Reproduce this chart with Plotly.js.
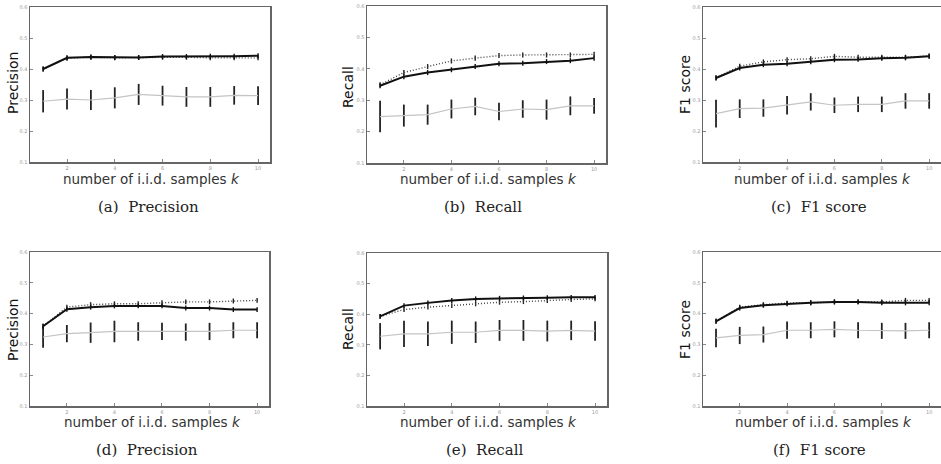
<!DOCTYPE html>
<html>
<head>
<meta charset="utf-8">
<script src="https://cdn.plot.ly/plotly-3.0.1.min.js"></script>
<style>
html,body{margin:0;padding:0;background:#fff;}
#chart{width:941px;height:464px;}
</style>
</head>
<body>
<div id="chart"></div>
<script>
// ---- data ----
const k = [1, 2, 3, 4, 5, 6, 7, 8, 9, 10];
const xTicks = [2, 4, 6, 8, 10];
const yTicks = [0.1, 0.2, 0.3, 0.4, 0.5, 0.6];
const yTickLabels = ["0.1", "0.2", "0.3", "0.4", "0.5", "0.6"];

const captions = ["(a)  Precision", "(b)  Recall", "(c)  F1 score", "(d)  Precision", "(e)  Recall", "(f)  F1 score"];
const yTitles = ["Precision", "Recall", "F1 score", "Precision", "Recall", "F1 score"];
const xTitle = "number of i.i.d. samples <i>k</i>";

// (a) Precision
const aSolid  = [0.400, 0.436, 0.439, 0.437, 0.437, 0.440, 0.440, 0.441, 0.441, 0.443];
const aDotted = [0.400, 0.435, 0.438, 0.436, 0.437, 0.438, 0.438, 0.436, 0.436, 0.436];
const aGrey   = [0.296, 0.303, 0.300, 0.307, 0.318, 0.314, 0.310, 0.310, 0.315, 0.314];
const aGreyErr = [0.036, 0.034, 0.032, 0.034, 0.034, 0.032, 0.032, 0.032, 0.030, 0.030];

// (b) Recall
const bSolid  = [0.346, 0.375, 0.388, 0.397, 0.407, 0.416, 0.418, 0.423, 0.426, 0.434];
const bDotted = [0.349, 0.388, 0.407, 0.425, 0.434, 0.442, 0.444, 0.444, 0.444, 0.446];
const bGrey   = [0.248, 0.251, 0.254, 0.272, 0.280, 0.264, 0.272, 0.270, 0.282, 0.282];
const bGreyErr = [0.050, 0.035, 0.032, 0.030, 0.028, 0.028, 0.028, 0.032, 0.030, 0.025];

// (c) F1 score
const cSolid  = [0.371, 0.403, 0.414, 0.417, 0.423, 0.430, 0.431, 0.435, 0.436, 0.441];
const cDotted = [0.372, 0.409, 0.423, 0.430, 0.433, 0.441, 0.438, 0.438, 0.438, 0.442];
const cGrey   = [0.256, 0.272, 0.274, 0.283, 0.294, 0.283, 0.286, 0.286, 0.297, 0.297];
const cGreyErr = [0.045, 0.030, 0.028, 0.030, 0.028, 0.025, 0.025, 0.025, 0.025, 0.025];

// (d) Precision
const dSolid  = [0.359, 0.414, 0.421, 0.425, 0.425, 0.425, 0.418, 0.418, 0.413, 0.413];
const dDotted = [0.359, 0.421, 0.429, 0.432, 0.432, 0.435, 0.438, 0.438, 0.441, 0.443];
const dGrey   = [0.324, 0.335, 0.338, 0.342, 0.342, 0.342, 0.340, 0.342, 0.346, 0.346];
const dGreyErr = [0.035, 0.028, 0.033, 0.035, 0.030, 0.028, 0.028, 0.028, 0.026, 0.026];

// (e) Recall
const eSolid  = [0.393, 0.428, 0.437, 0.445, 0.450, 0.452, 0.453, 0.454, 0.455, 0.455];
const eDotted = [0.393, 0.415, 0.423, 0.428, 0.434, 0.439, 0.441, 0.445, 0.448, 0.450];
const eGrey   = [0.328, 0.336, 0.336, 0.341, 0.341, 0.347, 0.347, 0.345, 0.347, 0.345];
const eGreyErr = [0.043, 0.043, 0.040, 0.038, 0.035, 0.034, 0.034, 0.034, 0.032, 0.032];

// (f) F1 score
const fSolid  = [0.375, 0.418, 0.427, 0.432, 0.435, 0.438, 0.438, 0.435, 0.435, 0.435];
const fDotted = [0.375, 0.421, 0.429, 0.434, 0.435, 0.438, 0.438, 0.438, 0.443, 0.443];
const fGrey   = [0.321, 0.329, 0.332, 0.346, 0.346, 0.349, 0.346, 0.344, 0.344, 0.346];
const fGreyErr = [0.030, 0.028, 0.026, 0.028, 0.026, 0.026, 0.026, 0.026, 0.026, 0.026];

const mainErr = [0.008, 0.008, 0.008, 0.008, 0.008, 0.008, 0.008, 0.008, 0.008, 0.008];

const panels = [
  {solid: aSolid, dotted: aDotted, grey: aGrey, greyErr: aGreyErr},
  {solid: bSolid, dotted: bDotted, grey: bGrey, greyErr: bGreyErr},
  {solid: cSolid, dotted: cDotted, grey: cGrey, greyErr: cGreyErr},
  {solid: dSolid, dotted: dDotted, grey: dGrey, greyErr: dGreyErr},
  {solid: eSolid, dotted: eDotted, grey: eGrey, greyErr: eGreyErr},
  {solid: fSolid, dotted: fDotted, grey: fGrey, greyErr: fGreyErr}
];

// ---- layout geometry (px) ----
const W = 941, H = 464;
const boxes = [
  {x0: 30,  x1: 270, y0: 7,   y1: 162},
  {x0: 367, x1: 606, y0: 6,   y1: 163},
  {x0: 703, x1: 942, y0: 7,   y1: 162},
  {x0: 30,  x1: 269, y0: 252, y1: 406},
  {x0: 367, x1: 607, y0: 253, y1: 406},
  {x0: 703, x1: 942, y0: 252, y1: 406}
];
const yTitlePos = [[13, 83], [348, 87], [685, 85], [13, 330], [348, 329], [685, 330]];
const xTitlePos = [[151, 179], [488, 179], [822, 179], [152, 422], [488, 422], [823, 422]];
const capPos = [[148, 207], [483, 207], [819, 207], [147, 450], [484, 450], [819, 450]];

const fx = p => Math.min(1, p / W);
const fy = p => 1 - p / H;

const traces = [];
const layout = {
  width: W, height: H,
  margin: {l: 0, r: 0, t: 0, b: 0},
  paper_bgcolor: '#fff', plot_bgcolor: '#fff',
  showlegend: false,
  font: {family: 'DejaVu Sans', color: '#333'},
  annotations: []
};

panels.forEach((p, i) => {
  const n = i === 0 ? '' : String(i + 1);
  const xa = 'x' + n, ya = 'y' + n;
  const b = boxes[i];
  layout['xaxis' + n] = {
    domain: [fx(b.x0), fx(b.x1)], anchor: ya,
    range: [0.45, 10.5], tickvals: xTicks, ticktext: xTicks.map(String),
    showline: true, mirror: true, linecolor: '#666', linewidth: 1.5,
    ticks: 'inside', ticklen: 3, tickcolor: '#888',
    tickfont: {size: 5, color: '#999'}, showgrid: false, zeroline: false
  };
  layout['yaxis' + n] = {
    domain: [fy(b.y1), fy(b.y0)], anchor: xa,
    range: [0.1, 0.6], tickvals: yTicks, ticktext: yTickLabels,
    showline: true, mirror: true, linecolor: '#666', linewidth: 1.5,
    ticks: 'inside', ticklen: 3, tickcolor: '#888',
    tickfont: {size: 5, color: '#999'}, showgrid: false, zeroline: false
  };
  traces.push({
    x: k, y: p.grey, xaxis: xa, yaxis: ya, type: 'scatter', mode: 'lines',
    line: {color: '#c4c4c4', width: 1.2},
    error_y: {type: 'data', array: p.greyErr, visible: true, color: '#222', thickness: 1.8, width: 0}
  });
  traces.push({
    x: k, y: p.dotted, xaxis: xa, yaxis: ya, type: 'scatter', mode: 'lines',
    line: {color: '#444', width: 1.4, dash: '1px,2px'},
    error_y: {type: 'data', array: mainErr, visible: true, color: '#222', thickness: 1.4, width: 0}
  });
  traces.push({
    x: k, y: p.solid, xaxis: xa, yaxis: ya, type: 'scatter', mode: 'lines',
    line: {color: '#111', width: 2},
    error_y: {type: 'data', array: mainErr, visible: true, color: '#111', thickness: 1.4, width: 0}
  });
  layout.annotations.push({
    text: yTitles[i], xref: 'paper', yref: 'paper',
    x: yTitlePos[i][0] / W, y: fy(yTitlePos[i][1]), xanchor: 'center', yanchor: 'middle',
    textangle: -90, showarrow: false, font: {family: 'DejaVu Sans', size: 14, color: '#111'}
  });
  layout.annotations.push({
    text: xTitle, xref: 'paper', yref: 'paper',
    x: xTitlePos[i][0] / W, y: fy(xTitlePos[i][1]), xanchor: 'center', yanchor: 'middle',
    showarrow: false, font: {family: 'DejaVu Sans', size: 13.5, color: '#333'}
  });
  layout.annotations.push({
    text: captions[i], xref: 'paper', yref: 'paper',
    x: capPos[i][0] / W, y: fy(capPos[i][1]), xanchor: 'center', yanchor: 'middle',
    showarrow: false, font: {family: 'DejaVu Serif', size: 15, color: '#222'}
  });
});

Plotly.newPlot('chart', traces, layout, {displayModeBar: false, staticPlot: true});
</script>
</body>
</html>
